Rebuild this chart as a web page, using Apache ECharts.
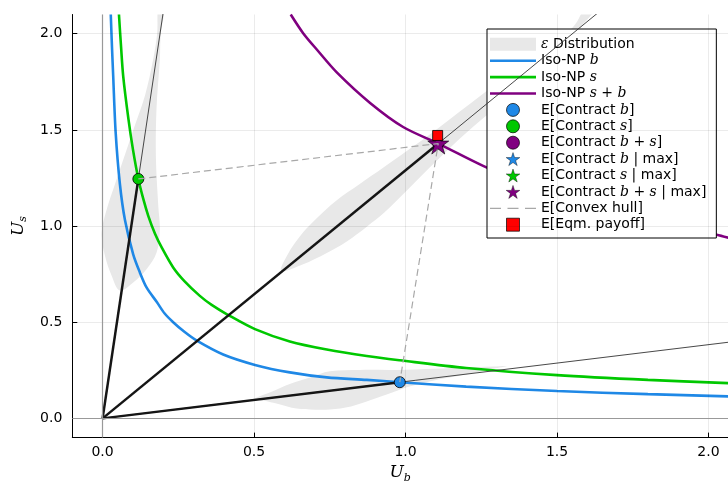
<!DOCTYPE html>
<html>
<head>
<meta charset="utf-8">
<script src="https://cdn.jsdelivr.net/npm/echarts@6/dist/echarts.min.js"></script>
<style>
  html, body { margin: 0; padding: 0; background: #fff; }
  #chart { width: 728px; height: 489px; }
</style>
</head>
<body>
<div id="chart"></div>
<script>
// ---- data ----
const xTicks = [0, 0.5, 1.0, 1.5, 2.0];
const yTicks = [0, 0.5, 1.0, 1.5, 2.0];

const isoB = [[0.027,2.10],[0.031,1.93],[0.035,1.78],[0.043,1.49],[0.057,1.22],[0.074,1.03],[0.101,0.853],[0.123,0.759],[0.145,0.681],[0.179,0.605],[0.205,0.545],[0.233,0.500],[0.27,0.450],[0.311,0.404],[0.398,0.332],[0.503,0.278],[0.618,0.239],[0.740,0.213],[0.872,0.200],[0.981,0.188],[1.2,0.165],[1.5,0.142],[1.8,0.126],[2.07,0.114]];
const isoS = [[0.054,2.10],[0.061,1.93],[0.068,1.78],[0.085,1.56],[0.100,1.40],[0.118,1.245],[0.135,1.137],[0.151,1.052],[0.173,0.960],[0.195,0.889],[0.233,0.785],[0.27,0.714],[0.321,0.637],[0.36,0.590],[0.412,0.540],[0.503,0.464],[0.618,0.400],[0.740,0.358],[0.872,0.324],[0.981,0.302],[1.2,0.262],[1.5,0.225],[1.8,0.200],[2.07,0.183]];
const isoSB = [[0.621,2.10],[0.662,2.003],[0.707,1.918],[0.773,1.799],[0.883,1.64],[0.992,1.515],[1.108,1.429],[1.256,1.313],[1.4,1.217],[1.6,1.113],[1.8,1.028],[2.027,0.955],[2.07,0.937]];

const contractB = [[0.981, 0.188]];
const contractS = [[0.118, 1.245]];
const contractBS = [[1.108, 1.429]];
const maxB = [];
const maxS = [];
const maxBS = [[1.108, 1.429]];
const hullPts = [[0.118, 1.245], [1.108, 1.429], [0.981, 0.188]];
const eqmPayoff = [[1.106, 1.471]];

// epsilon distribution outlines (one per ray)
const distS = [[0.185,2.15],[0.205,2.15],[0.192,2.0],[0.189,1.867],[0.178,1.611],[0.176,1.355],[0.184,1.1],[0.189,0.98],[0.178,0.861],[0.145,0.776],[0.101,0.707],[0.057,0.665],[0.03,0.742],[0.008,0.844],[-0.003,0.963],[0.013,1.083],[0.041,1.219],[0.074,1.372],[0.107,1.526],[0.14,1.679],[0.167,1.867],[0.18,2.0]];
const distBS = [[0.59,0.767],[0.61,0.85],[0.651,0.946],[0.70,1.03],[0.773,1.134],[0.85,1.22],[0.927,1.304],[1.004,1.39],[1.10,1.50],[1.256,1.688],[1.40,1.86],[1.55,2.03],[1.60,2.15],[1.635,2.15],[1.575,2.03],[1.49,1.89],[1.38,1.72],[1.256,1.56],[1.147,1.407],[1.015,1.202],[0.93,1.07],[0.872,0.997],[0.806,0.92],[0.74,0.86],[0.66,0.80]];
const distB = [[0.5,0.1],[0.56,0.14],[0.62,0.18],[0.685,0.213],[0.75,0.245],[0.85,0.252],[0.97,0.252],[1.1,0.258],[1.2,0.264],[1.29,0.27],[1.334,0.272],[1.29,0.258],[1.19,0.225],[1.09,0.196],[1.004,0.162],[0.94,0.125],[0.883,0.094],[0.82,0.062],[0.75,0.046],[0.7,0.045],[0.64,0.051],[0.58,0.075],[0.53,0.093]];
const distShapes = [distS, distBS, distB];

// ---- styling ----
const C_BLUE = '#1f88e6';
const C_GREEN = '#00c800';
const C_PURPLE = '#800080';
const C_FILL = '#e8e8e8';
const C_HULL = '#a8a8a8';
const STAR = 'path://M50 0 L61.17 34.63 L97.55 34.55 L68.07 55.87 L79.39 90.45 L50 69 L20.61 90.45 L31.93 55.87 L2.45 34.55 L38.83 34.63 Z';
const LINE_ICON = 'path://M0,0 L46,0 L46,2.6 L0,2.6 Z';
const DASH_ICON = 'path://M0,0 h11 v1.3 h-11 Z M17.5,0 h11 v1.3 h-11 Z M35,0 h11 v1.3 h-11 Z';
const SQUARE_ICON = 'path://M0,0 L10,0 L10,10 L0,10 Z';

const rays = [contractS[0], contractBS[0], contractB[0]];

const legendText = {
  eps: '{i|ε} Distribution',
  isoB: 'Iso-NP {i|b}',
  isoS: 'Iso-NP {i|s}',
  isoSB: 'Iso-NP {i|s} {m|+} {i|b}',
  cB: 'E[Contract {i|b}]',
  cS: 'E[Contract {i|s}]',
  cBS: 'E[Contract {i|b} {m|+} {i|s}]',
  mB: 'E[Contract {i|b} | max]',
  mS: 'E[Contract {i|s} | max]',
  mBS: 'E[Contract {i|b} {m|+} {i|s} | max]',
  hull: 'E[Convex hull]',
  eqm: 'E[Eqm. payoff]'
};

function mk(color, bw) { return { color: color, opacity: 1, borderColor: '#000', borderWidth: bw }; }

const series = [
  { // grid lines
    name: '_grid', type: 'line', data: [], z: 0, silent: true,
    markLine: {
      silent: true, symbol: 'none', label: { show: false }, animation: false,
      lineStyle: { color: 'rgba(0,0,0,0.08)', width: 1, type: 'solid' },
      data: xTicks.map(v => ({ xAxis: v })).concat(yTicks.map(v => ({ yAxis: v })))
    }
  },
  {
    name: 'eps', type: 'custom', clip: true, z: 1,
    itemStyle: { color: C_FILL },
    data: distShapes.map((s, i) => [i, 0]),
    renderItem: function (params, api) {
      const shape = distShapes[api.value(0)];
      return {
        type: 'polygon',
        shape: { points: shape.map(p => api.coord(p)), smooth: 0.35 },
        style: { fill: C_FILL }
      };
    }
  },
  { // zero lines
    name: '_zero', type: 'line', data: [], z: 2, silent: true,
    markLine: {
      silent: true, symbol: 'none', label: { show: false }, animation: false,
      lineStyle: { color: '#999', width: 1.2, type: 'solid' },
      data: [{ xAxis: 0 }, { yAxis: 0 }]
    }
  },
  { name: 'isoB', type: 'line', data: isoB, showSymbol: false, symbol: 'none', smooth: 0.3, z: 3,
    lineStyle: { color: C_BLUE, width: 2.6 }, itemStyle: { color: C_BLUE } },
  { name: 'isoS', type: 'line', data: isoS, showSymbol: false, symbol: 'none', smooth: 0.3, z: 3,
    lineStyle: { color: C_GREEN, width: 2.6 }, itemStyle: { color: C_GREEN } },
  { name: 'isoSB', type: 'line', data: isoSB, showSymbol: false, symbol: 'none', smooth: 0.3, z: 3,
    lineStyle: { color: C_PURPLE, width: 2.6 }, itemStyle: { color: C_PURPLE } }
];

rays.forEach((p, i) => {
  series.push({ name: '_thin' + i, type: 'line', showSymbol: false, symbol: 'none', z: 4, silent: true,
    data: [[0, 0], [p[0] * 4, p[1] * 4]], lineStyle: { color: '#333', width: 0.9 } });
  series.push({ name: '_thick' + i, type: 'line', showSymbol: false, symbol: 'none', z: 4, silent: true,
    data: [[0, 0], p], lineStyle: { color: '#151515', width: 2.5 } });
});

series.push(
  { name: 'cB', type: 'scatter', data: contractB, symbol: 'circle', symbolSize: 11, z: 5, itemStyle: mk(C_BLUE, 0.8) },
  { name: 'cS', type: 'scatter', data: contractS, symbol: 'circle', symbolSize: 11, z: 5, itemStyle: mk(C_GREEN, 0.8) },
  { name: 'cBS', type: 'scatter', data: contractBS, symbol: 'circle', symbolSize: 11, z: 5, itemStyle: mk(C_PURPLE, 0.8) },
  { name: 'mB', type: 'scatter', data: maxB, symbol: STAR, symbolSize: 20, z: 6, itemStyle: mk(C_BLUE, 0.5) },
  { name: 'mS', type: 'scatter', data: maxS, symbol: STAR, symbolSize: 20, z: 6, itemStyle: mk(C_GREEN, 0.5) },
  { name: 'mBS', type: 'scatter', data: maxBS, symbol: STAR, symbolSize: 21, z: 6, itemStyle: mk(C_PURPLE, 0.6) },
  { name: 'hull', type: 'line', data: hullPts, showSymbol: false, symbol: 'none', z: 7,
    lineStyle: { color: C_HULL, width: 1.2, type: [7, 4] }, itemStyle: { color: C_HULL } },
  { name: 'eqm', type: 'scatter', data: eqmPayoff, symbol: 'rect', symbolSize: 10, z: 8, itemStyle: mk('#ff0000', 0.8) }
);

const legendNames = ['eps','isoB','isoS','isoSB','cB','cS','cBS','mB','mS','mBS','hull','eqm'];
const legendIcons = { eps: 'rect', isoB: LINE_ICON, isoS: LINE_ICON, isoSB: LINE_ICON,
  cB: 'circle', cS: 'circle', cBS: 'circle', mB: STAR, mS: STAR, mBS: STAR, hull: DASH_ICON, eqm: SQUARE_ICON };
const legendBorder = { cB: 0.7, cS: 0.7, cBS: 0.7, mB: 0.4, mS: 0.4, mBS: 0.4, eqm: 0.7 };

const chart = echarts.init(document.getElementById('chart'), null, { renderer: 'canvas' });
const axisFont = { fontFamily: 'DejaVu Sans', fontSize: 14, color: '#000' };
const nameRich = {
  u: { fontFamily: 'DejaVu Serif', fontStyle: 'italic', fontSize: 17, color: '#000', lineHeight: 22 },
  s: { fontFamily: 'DejaVu Serif', fontStyle: 'italic', fontSize: 11, color: '#000', verticalAlign: 'bottom', lineHeight: 22 }
};
chart.setOption({
  animation: false,
  backgroundColor: '#fff',
  grid: { left: 72.3, right: 0, top: 14.5, bottom: 44.5, containLabel: false },
  xAxis: {
    type: 'value', min: -0.1, max: 2.0644,
    axisLine: { show: true, onZero: false, lineStyle: { color: '#000', width: 1 } },
    axisTick: { show: true, inside: true, length: 5, customValues: xTicks, lineStyle: { color: '#000' } },
    axisLabel: Object.assign({ customValues: xTicks, margin: 8, formatter: v => v.toFixed(1) }, axisFont),
    splitLine: { show: false },
    name: '{u|U}{s|b}', nameLocation: 'middle', nameGap: 24,
    nameTextStyle: { rich: nameRich }
  },
  yAxis: {
    type: 'value', min: -0.1, max: 2.1,
    axisLine: { show: true, onZero: false, lineStyle: { color: '#000', width: 1 } },
    axisTick: { show: true, inside: true, length: 5, customValues: yTicks, lineStyle: { color: '#000' } },
    axisLabel: Object.assign({ customValues: yTicks, margin: 10, formatter: v => v.toFixed(1) }, axisFont),
    splitLine: { show: false },
    name: '{u|U}{s|s}', nameLocation: 'middle', nameGap: 40,
    nameTextStyle: { rich: nameRich }
  },
  legend: {
    orient: 'vertical', left: 487, top: 29, align: 'left',
    selectedMode: false,
    backgroundColor: '#fff', borderColor: '#000', borderWidth: 1, borderRadius: 0,
    padding: [7.3, 10, 5.3, 3],
    itemWidth: 46, itemHeight: 13, itemGap: 0.4,
    data: legendNames.map(n => ({
      name: n, icon: legendIcons[n],
      itemStyle: { borderColor: '#000', borderWidth: legendBorder[n] || 0 }
    })),
    formatter: n => legendText[n],
    textStyle: {
      fontFamily: 'DejaVu Sans', fontSize: 14, color: '#000', lineHeight: 16,
      rich: {
        i: { fontFamily: 'DejaVu Serif', fontStyle: 'italic', fontSize: 14, color: '#000', lineHeight: 16 },
        m: { fontFamily: 'DejaVu Serif', fontSize: 14, color: '#000', lineHeight: 16 }
      }
    }
  },
  series: series
});
</script>
</body>
</html>
